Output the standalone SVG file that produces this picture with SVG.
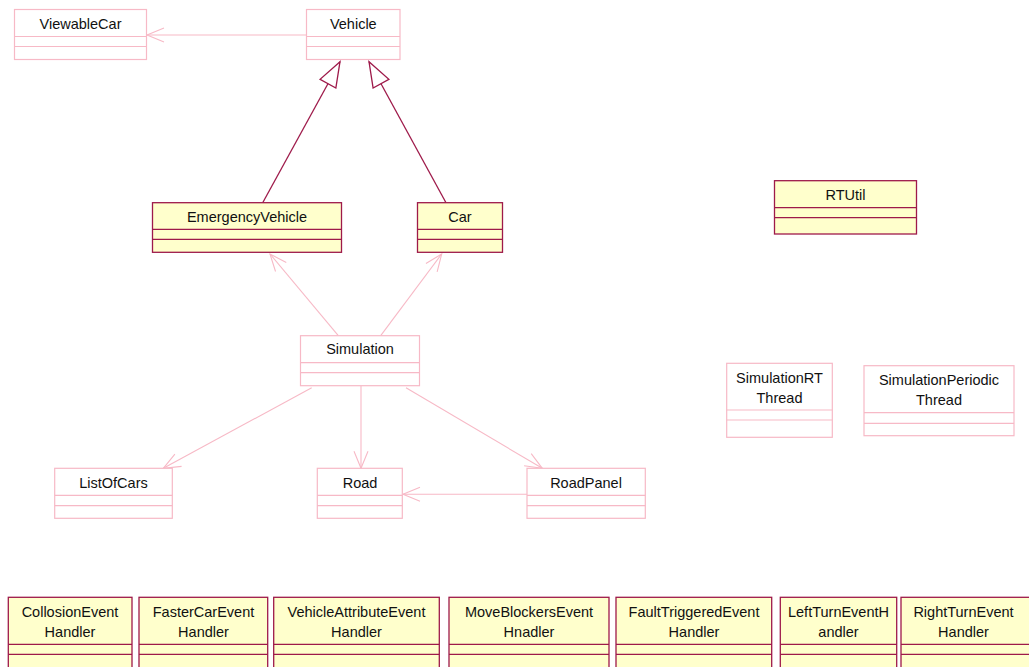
<svg xmlns="http://www.w3.org/2000/svg" width="1029" height="667" viewBox="0 0 1029 667">
<style>
text{font-family:"Liberation Sans",Arial,sans-serif;font-size:14.5px;fill:#111;text-anchor:middle}
.p{fill:#fff;stroke:#f7b9c6;stroke-width:1.2}
.y{fill:#ffffcc;stroke:#9e1a4a;stroke-width:1.3}
.pl{stroke:#f7b9c6;stroke-width:1.2;fill:none}
.yl{stroke:#9e1a4a;stroke-width:1.3;fill:none}
.a{stroke:#f7b9c6;stroke-width:1.1;fill:none;marker-end:url(#open)}
.g{stroke:#9e1a4a;stroke-width:1.3;fill:none;marker-end:url(#tri)}
</style>
<defs>
<marker id="open" viewBox="-19 -9 21 18" refX="0" refY="0" markerWidth="21" markerHeight="18" markerUnits="userSpaceOnUse" orient="auto">
<path d="M -17 -7 L 0 0 L -17 7" fill="none" stroke="#f7b9c6" stroke-width="1.1"/>
</marker>
<marker id="tri" viewBox="-27 -11 29 22" refX="0" refY="0" markerWidth="29" markerHeight="22" markerUnits="userSpaceOnUse" orient="auto">
<path d="M 0 0 L -25 -9 L -25 9 Z" fill="#fff" stroke="#9e1a4a" stroke-width="1.3"/>
</marker>
</defs>
<g id="connectors">
<line class="a" x1="307" y1="35" x2="147" y2="35"/>
<line class="g" x1="262.7" y1="202.7" x2="340" y2="61.7"/>
<line class="g" x1="446" y1="202.7" x2="369" y2="61.7"/>
<line class="a" x1="338.3" y1="335.7" x2="270" y2="254"/>
<line class="a" x1="380.7" y1="335.7" x2="441.7" y2="254"/>
<line class="a" x1="311.7" y1="387.7" x2="163.3" y2="468.3"/>
<line class="a" x1="361" y1="385.7" x2="361" y2="468.3"/>
<line class="a" x1="406" y1="387.7" x2="542.3" y2="468.3"/>
<line class="a" x1="527" y1="494.3" x2="403" y2="494.3"/>
</g>
<g id="ViewableCar">
<rect class="p" x="14.5" y="9.5" width="132" height="50"/>
<path class="pl" d="M14.5 36.5H146.5M14.5 46.5H146.5"/>
<text x="80.5" y="29">ViewableCar</text>
</g>
<g id="Vehicle">
<rect class="p" x="306.5" y="9.5" width="93.5" height="50"/>
<path class="pl" d="M306.5 36.5H400M306.5 46.5H400"/>
<text x="353.3" y="29">Vehicle</text>
</g>
<g id="EmergencyVehicle">
<rect class="y" x="152.5" y="202.7" width="189" height="49.6"/>
<path class="yl" d="M152.5 229.3H341.5M152.5 239.3H341.5"/>
<text x="247" y="221.7">EmergencyVehicle</text>
</g>
<g id="Car">
<rect class="y" x="417.5" y="202.7" width="85" height="49.6"/>
<path class="yl" d="M417.5 229.3H502.5M417.5 239.3H502.5"/>
<text x="460" y="221.7">Car</text>
</g>
<g id="RTUtil">
<rect class="y" x="774.5" y="180.7" width="142" height="53.3"/>
<path class="yl" d="M774.5 207.7H916.5M774.5 217.7H916.5"/>
<text x="845.5" y="200">RTUtil</text>
</g>
<g id="Simulation">
<rect class="p" x="300.5" y="335.7" width="119" height="50"/>
<path class="pl" d="M300.5 362.7H419.5M300.5 372.7H419.5"/>
<text x="360" y="354.3">Simulation</text>
</g>
<g id="SimulationRTThread">
<rect class="p" x="726.7" y="363.3" width="105.6" height="74"/>
<path class="pl" d="M726.7 410H832.3M726.7 420H832.3"/>
<text x="779.5" y="383">SimulationRT</text>
<text x="779.5" y="402.7">Thread</text>
</g>
<g id="SimulationPeriodicThread">
<rect class="p" x="864" y="365.7" width="150" height="70"/>
<path class="pl" d="M864 412.7H1014M864 423.3H1014"/>
<text x="939" y="385">SimulationPeriodic</text>
<text x="939" y="405">Thread</text>
</g>
<g id="ListOfCars">
<rect class="p" x="54.7" y="468.3" width="117.6" height="50"/>
<path class="pl" d="M54.7 495.3H172.3M54.7 505.7H172.3"/>
<text x="113.5" y="488.3">ListOfCars</text>
</g>
<g id="Road">
<rect class="p" x="317.3" y="468.3" width="85" height="50"/>
<path class="pl" d="M317.3 495.3H402.3M317.3 505.7H402.3"/>
<text x="360" y="488.3">Road</text>
</g>
<g id="RoadPanel">
<rect class="p" x="527" y="468.3" width="118.3" height="50"/>
<path class="pl" d="M527 495.3H645.3M527 505.7H645.3"/>
<text x="586" y="488.3">RoadPanel</text>
</g>
<g id="CollosionEventHandler">
<rect class="y" x="8.3" y="597.3" width="123.7" height="80"/>
<path class="yl" d="M8.3 644.3H132M8.3 654.3H132"/>
<text x="70" y="616.7">CollosionEvent</text>
<text x="70" y="637">Handler</text>
</g>
<g id="FasterCarEventHandler">
<rect class="y" x="139" y="597.3" width="128.7" height="80"/>
<path class="yl" d="M139 644.3H267.7M139 654.3H267.7"/>
<text x="203.5" y="616.7">FasterCarEvent</text>
<text x="203.5" y="637">Handler</text>
</g>
<g id="VehicleAttributeEventHandler">
<rect class="y" x="273.7" y="597.3" width="165.6" height="80"/>
<path class="yl" d="M273.7 644.3H439.3M273.7 654.3H439.3"/>
<text x="356.5" y="616.7">VehicleAttributeEvent</text>
<text x="356.5" y="637">Handler</text>
</g>
<g id="MoveBlockersEventHnadler">
<rect class="y" x="449" y="597.3" width="160" height="80"/>
<path class="yl" d="M449 644.3H609M449 654.3H609"/>
<text x="529" y="616.7">MoveBlockersEvent</text>
<text x="529" y="637">Hnadler</text>
</g>
<g id="FaultTriggeredEventHandler">
<rect class="y" x="616" y="597.3" width="155.7" height="80"/>
<path class="yl" d="M616 644.3H771.7M616 654.3H771.7"/>
<text x="694" y="616.7">FaultTriggeredEvent</text>
<text x="694" y="637">Handler</text>
</g>
<g id="LeftTurnEventHandler">
<rect class="y" x="780.3" y="597.3" width="116.4" height="80"/>
<path class="yl" d="M780.3 644.3H896.7M780.3 654.3H896.7"/>
<text x="838.5" y="616.7">LeftTurnEventH</text>
<text x="838.5" y="637">andler</text>
</g>
<g id="RightTurnEventHandler">
<rect class="y" x="901" y="597.3" width="130" height="80"/>
<path class="yl" d="M901 644.3H1031M901 654.3H1031"/>
<text x="963.5" y="616.7">RightTurnEvent</text>
<text x="963.5" y="637">Handler</text>
</g>
</svg>
